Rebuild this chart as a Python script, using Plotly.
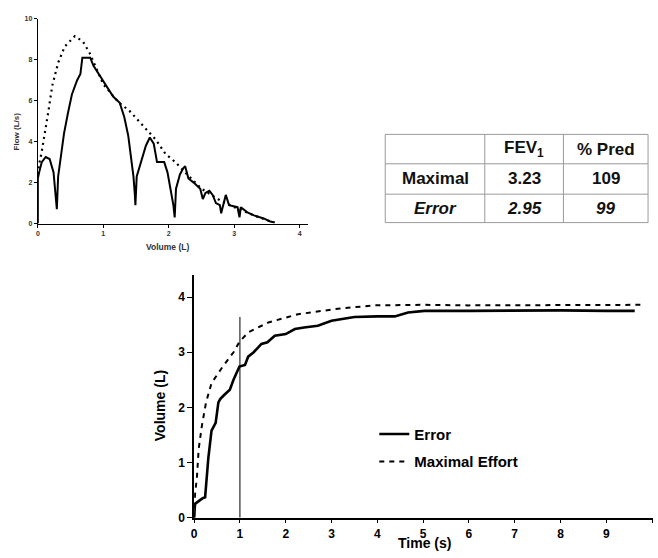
import plotly.graph_objects as go

# ---------------- data ----------------
# Flow-volume loop (top-left)
fv_max_volume = [0.0, 0.02, 0.056, 0.107, 0.16, 0.22, 0.31, 0.41, 0.565, 0.69, 0.79, 1.0, 1.23, 1.4, 1.6, 1.8, 1.95, 2.1, 2.25, 2.5, 2.8, 3.0, 3.3, 3.6]
fv_max_flow = [2.4, 2.9, 3.45, 4.34, 5.45, 6.73, 7.85, 8.64, 9.15, 8.88, 8.33, 6.8, 5.93, 5.5, 4.8, 4.1, 3.4, 3.0, 2.5, 1.7, 1.1, 0.8, 0.4, 0.05]

fv_err_volume = [0.0, 0.0, 0.02, 0.06, 0.12, 0.18, 0.24, 0.27, 0.29, 0.31, 0.35, 0.4, 0.46, 0.52, 0.6, 0.65, 0.68, 0.8, 0.85, 0.95, 1.05, 1.15, 1.25,
                 1.32, 1.38, 1.43, 1.46, 1.48, 1.49, 1.51, 1.57, 1.65, 1.71, 1.77, 1.82, 1.93, 1.98, 2.03, 2.07, 2.09, 2.11, 2.17, 2.22, 2.25,
                 2.3, 2.38, 2.48, 2.52, 2.56, 2.62, 2.67, 2.72, 2.78, 2.8, 2.85, 2.87, 2.92, 3.0, 3.05, 3.08, 3.1, 3.2, 3.3, 3.45, 3.55, 3.62]
fv_err_flow = [0.0, 2.2, 2.5, 3.0, 3.25, 3.15, 2.5, 1.2, 0.7, 2.3, 3.3, 4.4, 5.4, 6.3, 7.0, 7.3, 8.1, 8.1, 7.7, 7.2, 6.7, 6.2, 5.9,
               5.2, 4.3, 3.2, 2.3, 1.5, 0.9, 2.3, 3.0, 3.8, 4.2, 3.9, 3.0, 3.0, 2.5, 1.7, 0.9, 0.3, 1.7, 2.4, 2.7, 2.8,
               2.2, 2.0, 1.7, 1.2, 1.5, 1.6, 1.4, 1.0, 0.9, 0.5, 1.2, 1.4, 0.9, 0.85, 0.8, 0.3, 0.8, 0.55, 0.4, 0.25, 0.1, 0.05]

fv_xticks = [0, 1, 2, 3, 4]
fv_yticks = [0, 2, 4, 6, 8, 10]

# Volume-time curves (bottom)
vt_err_time = [0.0, 0.02, 0.1, 0.18, 0.24, 0.31, 0.38, 0.47, 0.53, 0.57, 0.65, 0.78, 0.86, 0.99, 1.11, 1.18, 1.3, 1.47, 1.6, 1.76, 2.0,
               2.2, 2.4, 2.7, 3.0, 3.2, 3.5, 4.0, 4.38, 4.67, 5.03, 6.0, 7.0, 8.0, 9.0, 9.62]
vt_err_vol = [0.0, 0.25, 0.3, 0.35, 0.37, 1.08, 1.58, 1.72, 2.09, 2.15, 2.22, 2.32, 2.5, 2.74, 2.77, 2.92, 3.0, 3.15, 3.18, 3.3, 3.33,
              3.42, 3.45, 3.48, 3.57, 3.6, 3.64, 3.65, 3.65, 3.72, 3.75, 3.75, 3.76, 3.76, 3.75, 3.75]

vt_max_time = [0.0, 0.02, 0.06, 0.1, 0.17, 0.26, 0.38, 0.6, 0.86, 0.99, 1.18, 1.62, 2.27, 3.14, 3.94, 5.0, 6.0, 7.0, 8.0, 9.0, 9.8]
vt_max_vol = [0.0, 0.43, 0.72, 1.25, 1.67, 2.09, 2.44, 2.71, 3.0, 3.19, 3.36, 3.54, 3.69, 3.79, 3.85, 3.86, 3.85, 3.85, 3.86, 3.86, 3.86]

fev1_time = [1, 1]
fev1_marker = [0, 3.64]

vt_xticks = list(range(0, 11))
vt_yticks = [0, 1, 2, 3, 4]

# Table
table_header = ["", "FEV<sub>1</sub>", "% Pred"]
table_rows = ["Maximal", "<i>Error</i>"]
table_fev1 = ["3.23", "<i>2.95</i>"]
table_pred = ["109", "<i>99</i>"]

# ---------------- figure ----------------
W, H = 658, 558
FONT = "Liberation Sans, Arial, sans-serif"


def px(x):
    return x / W


def py(y):
    return 1 - y / H


fig = go.Figure()

fig.add_trace(go.Scatter(x=fv_max_volume, y=fv_max_flow, mode="lines", xaxis="x", yaxis="y",
                         line=dict(color="black", width=2.2, dash="2px,4px"), showlegend=False))
fig.add_trace(go.Scatter(x=fv_err_volume, y=fv_err_flow, mode="lines", xaxis="x", yaxis="y",
                         line=dict(color="black", width=2), showlegend=False))

fig.add_trace(go.Scatter(x=vt_err_time, y=vt_err_vol, mode="lines", xaxis="x2", yaxis="y2",
                         name="Error", legendgroup="a",
                         line=dict(color="black", width=2.6)))
fig.add_trace(go.Scatter(x=vt_max_time, y=vt_max_vol, mode="lines", xaxis="x2", yaxis="y2",
                         name="Maximal Effort", legendgroup="b",
                         line=dict(color="black", width=2, dash="5px,5px")))
fig.add_trace(go.Scatter(x=fev1_time, y=fev1_marker, mode="lines", xaxis="x2", yaxis="y2",
                         line=dict(color="black", width=1), showlegend=False, hoverinfo="skip"))

axis_common = dict(showgrid=False, zeroline=False, showline=True, linecolor="black", ticks="outside",
                   tickcolor="black")

fig.update_layout(
    width=W, height=H,
    margin=dict(l=0, r=0, t=0, b=0),
    paper_bgcolor="white", plot_bgcolor="white",
    font=dict(family=FONT, color="black"),
    xaxis=dict(**axis_common, domain=[px(35), px(306)], range=[0, 4.12], tickvals=fv_xticks,
               ticklen=3, linewidth=1.2, tickfont=dict(size=7, color="#333", weight="bold"), anchor="y"),
    yaxis=dict(**axis_common, domain=[py(224), py(15)], range=[0, 10], tickvals=fv_yticks,
               ticklen=3, linewidth=1.2, tickfont=dict(size=7, color="#333", weight="bold"), anchor="x"),
    xaxis2=dict(**axis_common, domain=[px(192), px(653)], range=[0, 10.02], tickvals=vt_xticks,
                ticklen=4, linewidth=1.5, tickfont=dict(size=12, weight="bold"), anchor="y2"),
    yaxis2=dict(**axis_common, domain=[py(524), py(276.5)], range=[0, 4.4], tickvals=vt_yticks,
                ticklen=5, linewidth=1.5, tickfont=dict(size=12, weight="bold"), anchor="x2"),
    legend=dict(x=px(373), y=py(422), xanchor="left", yanchor="top", bgcolor="rgba(0,0,0,0)",
                font=dict(size=15, weight="bold", family=FONT), traceorder="grouped", tracegroupgap=5,
                itemwidth=30),
    showlegend=True,
)


def ann(text, x, y, size, angle=0, color="black", weight="bold"):
    return dict(text=text, x=px(x), y=py(y), xref="paper", yref="paper", showarrow=False,
                xanchor="center", yanchor="middle", textangle=angle,
                font=dict(size=size, color=color, weight=weight, family=FONT))


annotations = [
    ann("Volume (L)", 165, 248, 8.5, color="#333"),
    ann("Flow (L/s)", 13, 130, 8, angle=-90, color="#333"),
    ann("Time (s)", 423, 550, 14),
    ann("Volume (L)", 158, 410, 14, angle=-90),
]

# Table geometry
col_edges = [384, 484, 563, 648]
row_edges = [133, 163, 194, 223]
col_centers = [(col_edges[i] + col_edges[i + 1]) / 2 for i in range(3)]
row_centers = [(row_edges[i] + row_edges[i + 1]) / 2 for i in range(3)]

shapes = []
for xe in col_edges:
    shapes.append(dict(type="line", xref="paper", yref="paper", x0=px(xe), x1=px(xe),
                       y0=py(row_edges[0]), y1=py(row_edges[-1]), line=dict(color="#9a9a9a", width=1)))
for ye in row_edges:
    shapes.append(dict(type="line", xref="paper", yref="paper", x0=px(col_edges[0]), x1=px(col_edges[-1]),
                       y0=py(ye), y1=py(ye), line=dict(color="#9a9a9a", width=1)))

table_grid = [table_header,
              [table_rows[0], table_fev1[0], table_pred[0]],
              [table_rows[1], table_fev1[1], table_pred[1]]]
for r, row in enumerate(table_grid):
    for c, val in enumerate(row):
        if not val:
            continue
        annotations.append(ann(val, col_centers[c], row_centers[r], 17, color="#111"))

fig.update_layout(annotations=annotations, shapes=shapes)

fig.write_html("out.html", config={"displayModeBar": False},
               post_script="document.body.style.margin='0';document.body.style.overflow='hidden';")
